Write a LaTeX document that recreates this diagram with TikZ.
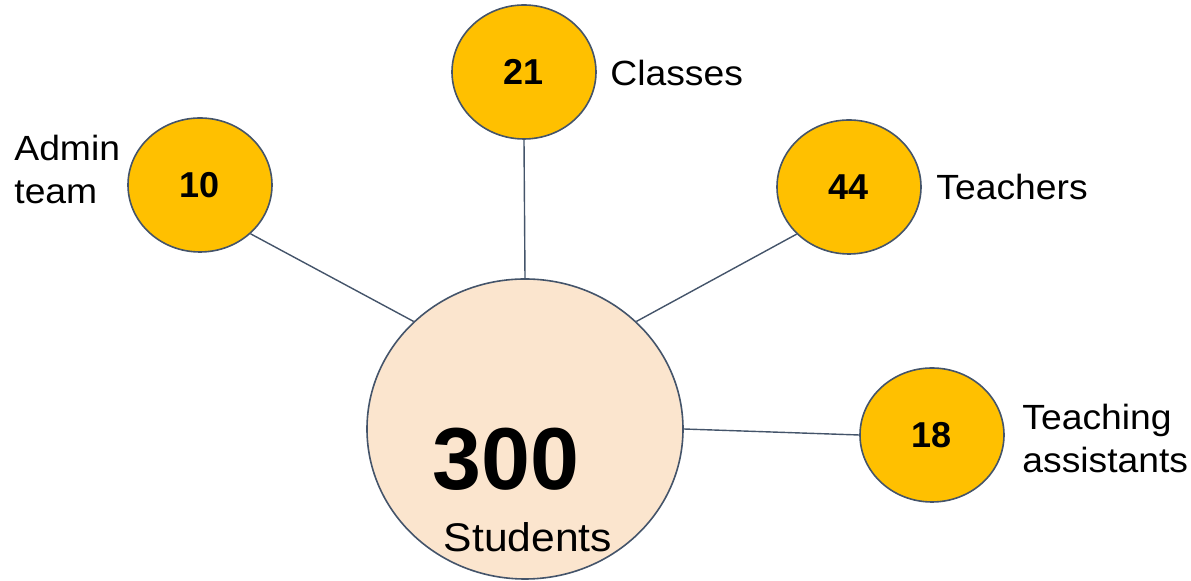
\documentclass[tikz,border=0pt]{standalone}
\usepackage{fontspec}
\setmainfont{Liberation Sans}
\usetikzlibrary{shapes.geometric}
\definecolor{linegray}{HTML}{44546A}
\definecolor{gold}{HTML}{FFC000}
\definecolor{peach}{HTML}{FBE5CE}
\newcommand{\wide}[1]{\scalebox{1.065}[1]{#1}}
\tikzset{
  countnode/.style={ellipse, draw=linegray, line width=0.8pt, fill=gold,
    minimum width=72pt, minimum height=67pt, inner sep=0pt,
    font=\fontsize{18}{20}\selectfont\bfseries},
  bignode/.style={ellipse, draw=linegray, line width=0.8pt, fill=peach,
    minimum width=158pt, minimum height=150pt, inner sep=0pt},
  tag/.style={anchor=west, align=left, inner sep=0pt,
    font=\fontsize{17.5}{21.5}\selectfont},
  link/.style={draw=linegray, line width=0.7pt}
}
\begin{document}
\begin{tikzpicture}[x=0.5pt, y=-0.5pt]
      \useasboundingbox (0,0) rectangle (1191,581);
      \draw
        (525,429) node[bignode] (students){}
        (200,185) node[countnode] (admin){10}
        (524,72) node[countnode] (classes){21}
        (849,187) node[countnode] (teachers){44}
        (932,435) node[countnode] (assist){18};
      \node[font=\fontsize{44}{44}\selectfont\bfseries] (big) at (506,459) {300};
      \node[font=\fontsize{20}{22}\selectfont] (studtext) at (528,537) {\wide{Students}};
      \node[tag] (admintag) at (14,169) {\wide{Admin}\\\wide{team}};
      \node[tag] (classtag) at (610,73) {\wide{Classes}};
      \node[tag] (teachtag) at (936,187) {\wide{Teachers}};
      \node[tag] (assisttag) at (1022,438) {\wide{Teaching}\\\wide{assistants}};
      \begin{scope}[link]
        \draw (admin.-44) to (students.136);
        \draw (classes.south) to (students.north);
        \draw (teachers.222) to (students.44);
        \draw (students.east) to (assist.west);
      \end{scope}
    \end{tikzpicture}
\end{document}
